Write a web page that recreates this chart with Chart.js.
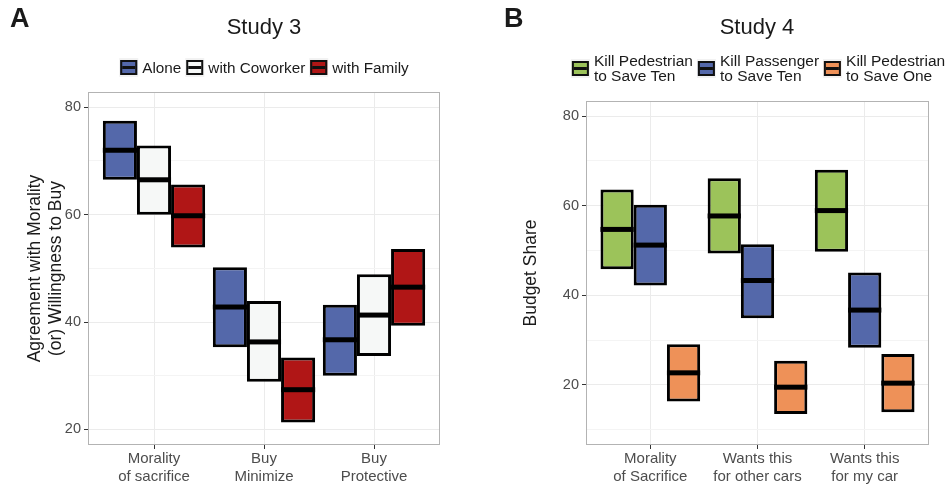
<!DOCTYPE html>
<html>
<head>
<meta charset="utf-8">
<script src="https://cdn.jsdelivr.net/npm/chart.js@4.4.1/dist/chart.umd.min.js"></script>
<style>
  body { margin: 0; background: #fff; font-family: 'Liberation Sans', Arial, sans-serif; color: #1a1a1a; }
  #wrap { position: relative; width: 952px; height: 486px; overflow: hidden; }
  .panel { position: absolute; top: 0; width: 476px; height: 486px; }
  .panel canvas { position: absolute; left: 0; top: 0; }
  .letter { position: absolute; top: 5px; font-family: 'Liberation Sans Narrow', 'Liberation Sans', sans-serif; font-weight: bold; font-size: 27px; line-height: 1; }
  .title { position: absolute; top: 15px; font-size: 22px; line-height: 24px; white-space: nowrap; transform: translateX(-50%); }
  .legend { position: absolute; display: flex; align-items: center; white-space: nowrap; transform: translateX(-50%); }
  .item { display: flex; align-items: center; margin-right: 4px; }
  .item span { margin-left: 4px; }
  .key { position: relative; width: 19px; height: 19px; background: #f2f2f2; flex: none; }
  .key i { position: absolute; left: 1px; top: 2px; width: 17px; height: 15px; box-sizing: border-box; border: 2.5px solid #111; }
  .key i::after { content: ''; position: absolute; left: 0; right: 0; top: 50%; height: 3px; margin-top: -1.5px; background: #111; }
  #legA { left: 266px; top: 58px; font-size: 15.3px; }
  #legB { left: 284px; top: 53px; font-size: 15.5px; line-height: 15px; }
</style>
</head>
<body>
<div id="wrap">
  <div class="panel" style="left:0">
    <canvas id="chartA" width="476" height="486"></canvas>
    <div class="letter" style="left:10px">A</div>
    <div class="title" style="left:264px">Study 3</div>
    <div class="legend" id="legA"></div>
  </div>
  <div class="panel" style="left:476px">
    <canvas id="chartB" width="476" height="486"></canvas>
    <div class="letter" style="left:28px">B</div>
    <div class="title" style="left:281px">Study 4</div>
    <div class="legend" id="legB"></div>
  </div>
</div>
<script>
// Study 3
const catsA = [['Morality', 'of sacrifice'], ['Buy', 'Minimize'], ['Buy', 'Protective']];
const seriesA = ['Alone', 'with Coworker', 'with Family'];
const colorsA = ['#5468aa', '#f6f8f7', '#b01616'];
const aloneLow = [66.5, 35.3, 30.0];
const aloneMean = [72.0, 42.8, 36.7];
const aloneHigh = [77.5, 50.2, 43.2];
const coworkerLow = [60.0, 28.9, 33.7];
const coworkerMean = [66.5, 36.3, 41.3];
const coworkerHigh = [72.9, 43.9, 48.9];
const familyLow = [53.9, 21.3, 39.3];
const familyMean = [59.8, 27.4, 46.5];
const familyHigh = [65.6, 33.4, 53.6];

// Study 4
const catsB = [['Morality', 'of Sacrifice'], ['Wants this', 'for other cars'], ['Wants this', 'for my car']];
const seriesB = [['Kill Pedestrian', 'to Save Ten'], ['Kill Passenger', 'to Save Ten'], ['Kill Pedestrian', 'to Save One']];
const colorsB = ['#9cc35a', '#5468aa', '#ee9158'];
const pedTenLow = [45.8, 49.3, 49.7];
const pedTenMean = [54.7, 57.7, 58.9];
const pedTenHigh = [63.6, 66.1, 68.0];
const passTenLow = [42.2, 34.9, 28.3];
const passTenMean = [51.2, 43.3, 36.7];
const passTenHigh = [60.2, 51.4, 45.1];
const pedOneLow = [16.3, 13.5, 13.9];
const pedOneMean = [22.7, 19.5, 20.4];
const pedOneHigh = [29.1, 25.4, 26.9];

const FONT = "'Liberation Sans', Arial, sans-serif";

// draws the mean bar across each box + the panel border
const crossbarPlugin = {
    id: 'crossbar',
    afterDatasetsDraw(chart) {
        const ctx = chart.ctx;
        const y = chart.scales.y;
        chart.data.datasets.forEach((ds, i) => {
            chart.getDatasetMeta(i).data.forEach((bar, j) => {
                const py = y.getPixelForValue(ds.means[j]);
                ctx.fillStyle = '#000';
                ctx.fillRect(bar.x - bar.width / 2, py - 2.5, bar.width, 5);
            });
        });
        const a = chart.chartArea;
        ctx.save();
        ctx.strokeStyle = '#b3b3b3';
        ctx.lineWidth = 1;
        ctx.strokeRect(a.left + 0.5, a.top + 0.5, a.right - a.left - 1, a.bottom - a.top - 1);
        ctx.restore();
    }
};

function makeDatasets(names, colors, lows, means, highs) {
    return names.map((name, i) => ({
        label: Array.isArray(name) ? name.join(' ') : name,
        data: lows[i].map((lo, j) => ({ x: j + 1, y: [lo, highs[i][j]] })),
        means: means[i],
        backgroundColor: colors[i],
        borderColor: '#000',
        borderWidth: 3,
        borderSkipped: false
    }));
}

function makeChart(id, cats, datasets, cfg) {
    return new Chart(document.getElementById(id), {
        type: 'bar',
        data: { datasets: datasets },
        plugins: [crossbarPlugin],
        options: {
            responsive: false,
            animation: false,
            categoryPercentage: 0.93,
            barPercentage: 1.0,
            layout: { padding: { left: 0, right: cfg.right, top: cfg.top, bottom: 0 } },
            plugins: { legend: { display: false }, tooltip: { enabled: false } },
            scales: {
                x: {
                    type: 'linear',
                    min: 0.4,
                    max: 3.6,
                    offset: false,
                    border: { display: false },
                    grid: { offset: false, color: '#ebebeb', tickColor: '#333', tickLength: 4 },
                    ticks: {
                        stepSize: 1, includeBounds: false, autoSkip: false, maxRotation: 0,
                        padding: 1, color: '#4d4d4d', font: { size: 15, family: FONT },
                        callback: v => cats[Math.round(v) - 1]
                    },
                    afterFit: s => { s.height = 41; }
                },
                y: {
                    min: cfg.yMin,
                    max: cfg.yMax,
                    border: { display: false },
                    grid: {
                        color: c => (c.tick && Math.round(c.tick.value) % 20 === 0) ? '#ebebeb' : '#f4f4f4',
                        tickColor: c => (c.tick && Math.round(c.tick.value) % 20 === 0) ? '#333' : 'rgba(0,0,0,0)',
                        tickLength: 4
                    },
                    ticks: {
                        stepSize: 10, includeBounds: false, autoSkip: false,
                        padding: 3, color: '#4d4d4d', font: { size: 14.5, family: FONT },
                        callback: v => Math.round(v) % 20 === 0 ? Math.round(v) : ''
                    },
                    title: {
                        display: true, text: cfg.yTitle, color: '#1a1a1a',
                        font: { size: 17.5, family: FONT },
                        padding: { top: cfg.titlePad, bottom: 0 }
                    },
                    afterFit: s => { s.width = cfg.left; }
                }
            }
        }
    });
}

function makeLegend(id, names, colors) {
    const el = document.getElementById(id);
    names.forEach((name, i) => {
        const item = document.createElement('div');
        item.className = 'item';
        const key = document.createElement('div');
        key.className = 'key';
        const box = document.createElement('i');
        box.style.background = colors[i];
        key.appendChild(box);
        const txt = document.createElement('span');
        txt.innerHTML = Array.isArray(name) ? name.join('<br>') : name;
        item.appendChild(key);
        item.appendChild(txt);
        el.appendChild(item);
    });
}

makeChart('chartA', catsA,
    makeDatasets(seriesA, colorsA,
        [aloneLow, coworkerLow, familyLow],
        [aloneMean, coworkerMean, familyMean],
        [aloneHigh, coworkerHigh, familyHigh]),
    { yMin: 17.1, yMax: 82.85, top: 92, right: 36, left: 88, titlePad: 25,
      yTitle: ['Agreement with Morality', '(or) Willingness to Buy'] });

makeChart('chartB', catsB,
    makeDatasets(seriesB, colorsB,
        [pedTenLow, passTenLow, pedOneLow],
        [pedTenMean, passTenMean, pedOneMean],
        [pedTenHigh, passTenHigh, pedOneHigh]),
    { yMin: 6.6, yMax: 83.35, top: 101, right: 23, left: 110, titlePad: 45,
      yTitle: 'Budget Share' });

makeLegend('legA', seriesA, colorsA);
makeLegend('legB', seriesB, colorsB);
</script>
</body>
</html>
